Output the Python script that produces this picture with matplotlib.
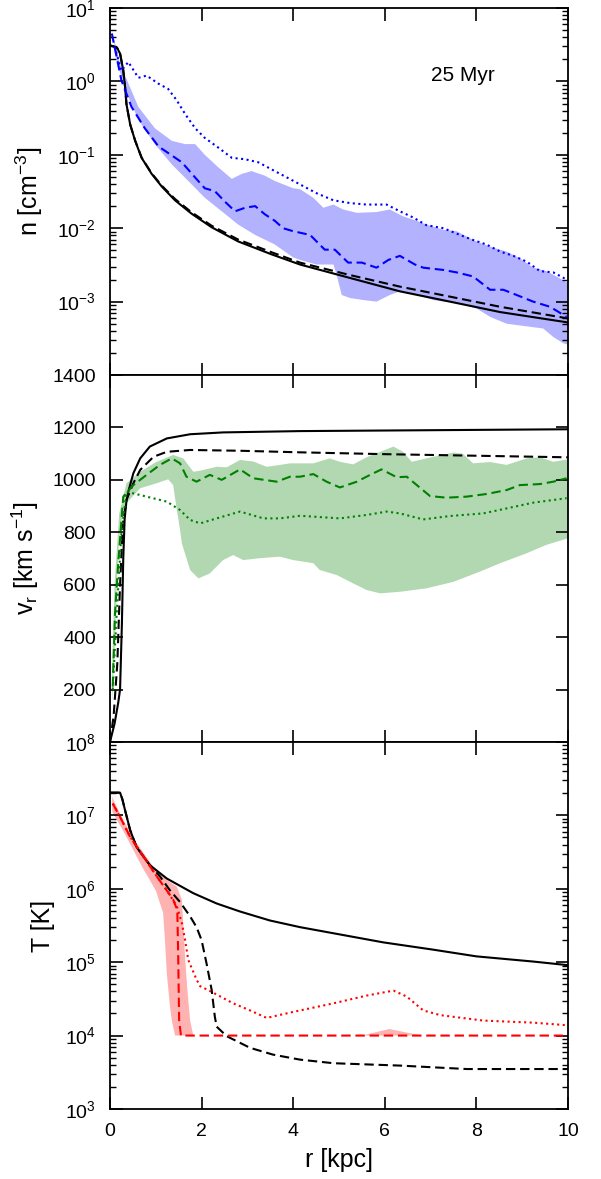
import numpy as np
import matplotlib.pyplot as plt
from matplotlib.ticker import LogLocator, NullFormatter

plt.rcParams['font.family'] = ['Liberation Sans', 'DejaVu Sans']
plt.rcParams['mathtext.fontset'] = 'custom'
plt.rcParams['mathtext.rm'] = 'Liberation Sans'
plt.rcParams['mathtext.it'] = 'Liberation Sans:italic'
plt.rcParams['mathtext.default'] = 'regular'

# ---- density profile n(r) [cm^-3] ----
r_n_sol = [0, 0.15, 0.22, 0.29, 0.33, 0.36, 0.44, 0.55, 0.69, 0.91, 1.13, 1.42, 1.78, 2.22,
           2.80, 3.53, 4.15, 5.24, 6.33, 7.42, 8.52, 10]
n_sol = [3.1, 2.9, 2.4, 1.41, 0.83, 0.49, 0.26, 0.155, 0.091, 0.055, 0.037, 0.024, 0.0158,
         0.0103, 0.0066, 0.0044, 0.0032, 0.0021, 0.00138, 0.0010, 0.00072, 0.00052]
r_n_ana = [0, 0.15, 0.22, 0.29, 0.33, 0.36, 0.44, 0.55, 0.69, 0.91, 1.13, 1.42, 1.78, 2.22,
           2.80, 3.53, 4.15, 5.24, 6.33, 7.42, 8.52, 10]
n_ana = [3.1, 2.9, 2.4, 1.41, 0.83, 0.49, 0.26, 0.156, 0.092, 0.056, 0.038, 0.025, 0.0165,
         0.0108, 0.0070, 0.0047, 0.0034, 0.0023, 0.0016, 0.00117, 0.00085, 0.00059]
r_n_med = [0.04, 0.25, 0.47, 0.76, 1.06, 1.35, 1.57, 1.86, 2.07, 2.29, 2.51, 2.73, 2.95, 3.17,
           3.38, 3.60, 3.78, 4.0, 4.37, 4.69, 4.91, 5.20, 5.50, 5.82, 6.08, 6.33, 6.66, 6.84,
           7.28, 7.57, 7.93, 8.30, 8.59, 8.88, 9.24, 9.61, 9.97]
n_med = [4.5, 1.03, 0.45, 0.23, 0.13, 0.098, 0.079, 0.049, 0.035, 0.032, 0.023, 0.017, 0.019,
         0.020, 0.0155, 0.0126, 0.0100, 0.0091, 0.0081, 0.0051, 0.0051, 0.0034, 0.0034,
         0.0029, 0.0037, 0.0042, 0.0032, 0.0029, 0.0027, 0.0025, 0.0022, 0.00145, 0.00145,
         0.00123, 0.0010, 0.00085, 0.00062]
r_n_avg = [0.10, 0.25, 0.40, 0.62, 0.80, 1.06, 1.27, 1.46, 1.64, 1.86, 2.07, 2.36, 2.66, 2.95,
           3.24, 3.60, 4.07, 4.51, 4.88, 5.24, 5.60, 6.04, 6.33, 6.62, 6.91, 7.28, 7.64, 7.93,
           8.22, 8.52, 8.81, 9.10, 9.39, 9.68, 9.97]
n_avg = [3.0, 1.4, 1.84, 1.12, 1.2, 0.93, 0.79, 0.55, 0.36, 0.23, 0.17, 0.126, 0.091, 0.087,
         0.079, 0.060, 0.042, 0.030, 0.024, 0.022, 0.021, 0.021, 0.017, 0.014, 0.011, 0.010,
         0.0081, 0.0069, 0.0060, 0.0048, 0.0042, 0.0035, 0.0026, 0.0025, 0.0020]
r_n_hi = [0.04, 0.22, 0.62, 0.98, 1.35, 1.64, 1.86, 2.07, 2.36, 2.66, 2.88, 3.09, 3.38, 3.60,
          4.0, 4.15, 4.44, 4.66, 4.88, 5.09, 5.39, 5.82, 6.11, 6.40, 6.70, 6.91, 7.28, 7.57,
          7.93, 8.30, 8.66, 8.95, 9.24, 9.53, 9.75, 10]
n_hi = [5.0, 1.74, 0.45, 0.23, 0.155, 0.14, 0.14, 0.10, 0.068, 0.047, 0.055, 0.060, 0.052,
        0.044, 0.035, 0.034, 0.026, 0.019, 0.021, 0.018, 0.0162, 0.0166, 0.018, 0.0145,
        0.0126, 0.0112, 0.0095, 0.0091, 0.0069, 0.0056, 0.0048, 0.0039, 0.0029, 0.0026,
        0.0022, 0.0018]
r_n_lo = [0.07, 0.18, 0.40, 0.62, 0.98, 1.35, 1.71, 2.07, 2.44, 2.80, 3.17, 3.60, 4.0, 4.15,
          4.51, 4.88, 4.95, 5.06, 5.24, 5.53, 5.82, 6.11, 6.33, 6.70, 7.06, 7.28, 7.64, 8.0,
          8.30, 8.66, 9.10, 9.46, 9.68, 9.90, 10]
n_lo = [4.1, 1.58, 0.62, 0.30, 0.14, 0.074, 0.044, 0.026, 0.017, 0.0112, 0.0081, 0.0060,
        0.0040, 0.0037, 0.0032, 0.0032, 0.0023, 0.00123, 0.00112, 0.00105, 0.0010, 0.00123,
        0.00138, 0.00123, 0.00105, 0.0010, 0.00095, 0.00081, 0.00062, 0.00050, 0.00046,
        0.00043, 0.00033, 0.00027, 0.00026]

# ---- radial velocity v_r(r) [km/s] ----
r_v_sol = [0, 0.1, 0.18, 0.22, 0.26, 0.29, 0.32, 0.36, 0.40, 0.51, 0.66, 0.87, 1.24, 1.75,
           2.47, 4.15, 10]
v_sol = [0, 70, 150, 200, 450, 700, 850, 920, 955, 1025, 1082, 1127, 1158, 1174, 1181, 1186,
         1193]
r_v_ana = [0, 0.08, 0.16, 0.22, 0.28, 0.36, 0.51, 0.66, 0.95, 1.24, 1.75, 2.84, 4.15, 6.0,
           8.0, 10]
v_ana = [0, 100, 300, 600, 830, 923, 987, 1038, 1088, 1107, 1114, 1111, 1105, 1098, 1092, 1086]
r_v_med = [0.06, 0.11, 0.18, 0.29, 0.51, 0.80, 1.09, 1.35, 1.53, 1.67, 1.89, 2.18, 2.44, 2.84,
           3.13, 3.64, 3.93, 4.15, 4.44, 4.73, 5.02, 5.39, 5.68, 5.93, 6.26, 6.48, 6.70, 6.99,
           7.35, 7.79, 8.22, 8.66, 8.95, 9.39, 9.68, 9.97]
v_med = [211, 491, 682, 936, 980, 1019, 1057, 1082, 1063, 1012, 993, 1019, 1000, 1040, 1006,
         993, 1012, 1012, 1022, 993, 971, 993, 1019, 1040, 1010, 1012, 980, 938, 932, 936, 946,
         961, 980, 984, 993, 1006]
r_v_avg = [0.06, 0.15, 0.25, 0.36, 0.66, 1.24, 1.53, 1.75, 1.97, 2.33, 2.84, 3.35, 3.71, 4.15,
           5.02, 5.60, 6.04, 6.33, 6.84, 7.42, 8.15, 8.66, 9.24, 9.97]
v_avg = [200, 500, 800, 955, 942, 917, 885, 847, 834, 853, 879, 853, 853, 863, 853, 866, 879,
         872, 849, 862, 872, 891, 913, 930]
r_v_hi = [0.05, 0.1, 0.2, 0.36, 0.66, 1.02, 1.38, 1.60, 1.82, 1.97, 2.33, 2.55, 2.84, 3.13,
          3.42, 3.64, 3.93, 4.15, 4.44, 4.80, 5.02, 5.31, 5.60, 5.90, 6.19, 6.40, 6.59, 6.91,
          7.50, 7.70, 7.93, 8.30, 8.66, 9.10, 9.39, 9.68, 10]
v_hi = [300, 600, 870, 987, 1031, 1069, 1095, 1082, 1031, 1035, 1050, 1048, 1076, 1070, 1050,
        1055, 1063, 1063, 1063, 1082, 1069, 1059, 1086, 1107, 1127, 1107, 1069, 1082, 1104,
        1100, 1063, 1068, 1057, 1082, 1086, 1069, 1078]
r_v_lo = [0.05, 0.1, 0.15, 0.2, 0.3, 0.66, 1.02, 1.27, 1.38, 1.46, 1.53, 1.57, 1.75, 1.93,
          2.18, 2.47, 2.69, 2.91, 3.27, 3.71, 4.0, 4.44, 4.58, 4.95, 5.31, 5.60, 5.90, 6.33,
          6.91, 7.50, 8.08, 8.52, 9.10, 9.53, 10]
v_lo = [149, 350, 600, 780, 900, 968, 987, 1002, 980, 885, 809, 757, 656, 624, 643, 694, 713,
        694, 701, 707, 694, 682, 656, 637, 605, 580, 567, 573, 586, 611, 650, 682, 720, 752,
        777]

# ---- temperature T(r) [K] ----
r_t_sol = [0, 0.22, 0.27, 0.33, 0.44, 0.58, 0.87, 1.24, 1.82, 2.33, 2.84, 3.49, 4.15, 5.97,
           7.06, 8.0, 9.24, 10]
t_sol = [2.04e7, 2.04e7, 1.66e7, 1.17e7, 6.3e6, 3.7e6, 2.1e6, 1.38e6, 8.7e5, 6.3e5, 4.9e5,
         3.7e5, 3.0e5, 1.86e5, 1.48e5, 1.2e5, 1.02e5, 9.1e4]
r_t_ana = [0, 0.22, 0.27, 0.33, 0.44, 0.58, 0.87, 1.09, 1.31, 1.53, 1.75, 1.89, 2.0, 2.11, 2.22,
           2.29, 2.33, 2.55, 3.06, 3.56, 4.15, 4.88, 6.33, 7.79, 10]
t_ana = [2.04e7, 2.04e7, 1.66e7, 1.17e7, 6.3e6, 3.7e6, 2.1e6, 1.48e6, 9.5e5, 6.6e5, 4.2e5,
         3.0e5, 2.0e5, 9.5e4, 4.2e4, 1.8e4, 1.32e4, 9.8e3, 6.8e3, 5.5e3, 4.7e3, 4.2e3, 3.9e3,
         3.5e3, 3.5e3]
r_t_med = [0.06, 0.22, 0.44, 0.73, 1.02, 1.24, 1.38, 1.47, 1.49, 1.51, 1.55, 10]
t_med = [1.45e7, 9.5e6, 5.1e6, 2.75e6, 1.48e6, 9.5e5, 7.1e5, 5.1e5, 1.17e5, 1.6e4, 1e4, 1e4]
r_t_avg = [0.06, 0.22, 0.44, 0.73, 1.02, 1.24, 1.46, 1.57, 1.64, 1.71, 1.89, 1.97, 2.20, 2.69,
           3.06, 3.42, 4.0, 4.88, 5.60, 6.19, 6.48, 6.84, 7.21, 8.15, 9.24, 10]
t_avg = [1.45e7, 9.5e6, 5.1e6, 2.75e6, 1.48e6, 9.5e5, 5.8e5, 3.4e5, 2.0e5, 1.07e5, 5.8e4,
         4.7e4, 4.0e4, 2.75e4, 2.2e4, 1.74e4, 2.1e4, 2.75e4, 3.5e4, 4.1e4, 3.4e4, 2.2e4, 1.9e4,
         1.6e4, 1.5e4, 1.38e4]
r_t_hi = [0.05, 0.2, 0.5, 1.0, 1.24, 1.46, 1.57, 1.60, 1.64, 1.69, 1.75, 1.82, 5.5, 6.1, 6.8, 10]
t_hi = [1.78e7, 1.12e7, 5.0e6, 1.78e6, 1.32e6, 1.07e6, 7.1e5, 3.4e5, 1.17e5, 4.2e4, 1.6e4,
        1e4, 1e4, 1.23e4, 1e4, 1e4]
r_t_lo = [0.05, 0.3, 0.7, 1.0, 1.16, 1.20, 1.24, 1.31, 1.35, 1.42, 10]
t_lo = [1.12e7, 6.0e6, 2.0e6, 9.5e5, 4.7e5, 2.0e5, 7.1e4, 2.5e4, 1.6e4, 1e4, 1e4]


def band(ax, r_hi, y_hi, r_lo, y_lo, color):
    # shaded region between upper and lower envelope
    xs = np.concatenate([r_hi, r_lo[::-1]])
    ys = np.concatenate([y_hi, y_lo[::-1]])
    ax.fill(xs, ys, color=color, alpha=0.3, lw=0)


def profiles(ax, sol, ana, med, avg, color):
    ax.plot(*sol, 'k-', lw=lw)
    ax.plot(*ana, 'k', lw=lw, dashes=(4.5, 2.3))
    ax.plot(*med, color=color, lw=lw, dashes=(4.5, 2.3))
    ax.plot(*avg, ':', color=color, lw=lw)


fig = plt.figure(figsize=(6.01, 11.79), dpi=100)
gs = fig.add_gridspec(3, 1, left=0.183, right=0.945, top=0.9932, bottom=0.0594, hspace=0)
ax_n = fig.add_subplot(gs[0])
ax_v = fig.add_subplot(gs[1], sharex=ax_n)
ax_t = fig.add_subplot(gs[2], sharex=ax_n)

lw = 1.5

# density
band(ax_n, r_n_hi, n_hi, r_n_lo, n_lo, 'blue')
profiles(ax_n, (r_n_sol, n_sol), (r_n_ana, n_ana), (r_n_med, n_med), (r_n_avg, n_avg), 'blue')
ax_n.set_yscale('log')
ax_n.set_ylim(1e-4, 1e1)
ax_n.set_yticks([1e-4, 1e-3, 1e-2, 1e-1, 1e0, 1e1],
                ['', r'$10^{-3}$', r'$10^{-2}$', r'$10^{-1}$', r'$10^{0}$', r'$10^{1}$'])
ax_n.set_ylabel(r'n [cm$^{-3}$]')
ax_n.text(7.7, 1.2, '25 Myr', ha='center', va='center', fontsize=15)

# velocity
band(ax_v, r_v_hi, v_hi, r_v_lo, v_lo, 'green')
profiles(ax_v, (r_v_sol, v_sol), (r_v_ana, v_ana), (r_v_med, v_med), (r_v_avg, v_avg), 'green')
ax_v.set_ylim(0, 1400)
ax_v.set_yticks(np.arange(0, 1401, 200), [''] + [str(v) for v in range(200, 1401, 200)])
ax_v.set_ylabel(r'v$_{\rm r}$ [km s$^{-1}$]')

# temperature
band(ax_t, r_t_hi, t_hi, r_t_lo, t_lo, 'red')
profiles(ax_t, (r_t_sol, t_sol), (r_t_ana, t_ana), (r_t_med, t_med), (r_t_avg, t_avg), 'red')
ax_t.set_yscale('log')
ax_t.set_ylim(1e3, 1e8)
ax_t.set_yticks([1e3, 1e4, 1e5, 1e6, 1e7, 1e8],
                [r'$10^{%d}$' % k for k in range(3, 9)])
ax_t.set_ylabel('T [K]')
ax_t.set_xlabel('r [kpc]', labelpad=6)

ax_t.set_xlim(0, 10)
ax_t.set_xticks(np.arange(0, 11, 2))

for ax in (ax_n, ax_v, ax_t):
    ax.tick_params(which='both', direction='in', top=True, right=True, labelsize=14, pad=10)
    ax.tick_params(which='major', length=9, width=1.2)
    ax.tick_params(which='minor', length=4.5, width=1.0)
    ax.xaxis.label.set_size(18)
    ax.yaxis.label.set_size(18)
    for s in ax.spines.values():
        s.set_linewidth(1.3)
for ax in (ax_n, ax_t):
    ax.yaxis.set_minor_locator(LogLocator(base=10, subs=np.arange(2, 10), numticks=20))
    ax.yaxis.set_minor_formatter(NullFormatter())
ax_n.tick_params(labelbottom=False)
ax_v.tick_params(labelbottom=False)

ax_n.yaxis.set_label_coords(-0.142, 0.5)
ax_v.yaxis.set_label_coords(-0.150, 0.5)
ax_t.yaxis.set_label_coords(-0.120, 0.5)

fig.savefig('out.png', dpi=100)
